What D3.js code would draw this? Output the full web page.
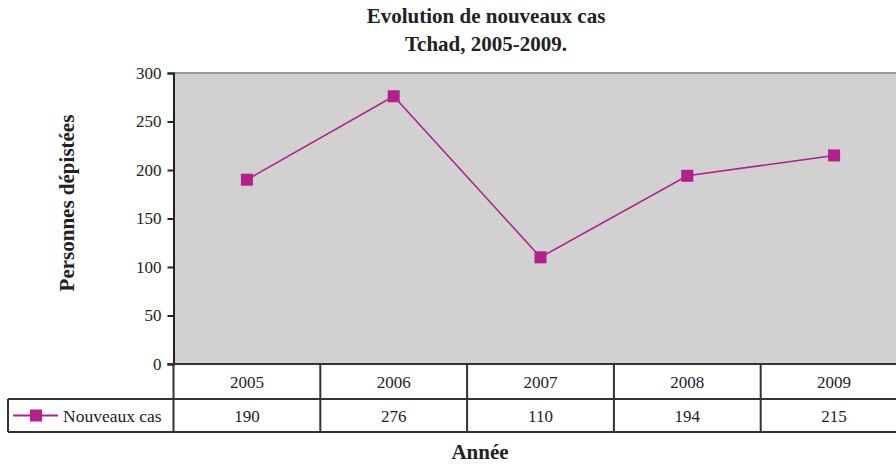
<!DOCTYPE html>
<html>
<head>
<meta charset="utf-8">
<script src="https://cdn.jsdelivr.net/npm/d3@7"></script>
<style>
  body { margin: 0; background: #fff; }
  svg text { font-family: "Liberation Serif", "Times New Roman", "DejaVu Serif", serif !important; fill: #222; }
</style>
</head>
<body>
<div id="chart"></div>
<script>
const years = ["2005", "2006", "2007", "2008", "2009"];
const nouveauxCas = [190, 276, 110, 194, 215];
const yTicks = [0, 50, 100, 150, 200, 250, 300];
const seriesName = "Nouveaux cas";

const width = 896;
const height = 464;
const plot = {"left": 173.5, "top": 73, "bottom": 364};
const band = 146.8;
const rowH = [35, 33];
const color = "#B3208B";

const svg = d3.select("#chart")
              .append("svg")
              .attr("width", width)
              .attr("height", height);

const x = d3.scaleBand()
            .domain(years)
            .range([plot.left, plot.left + band * years.length]);
const y = d3.scaleLinear().domain([0, 300]).range([plot.bottom, plot.top]);

// plot background
svg.append("rect")
   .attr("x", plot.left)
   .attr("y", plot.top)
   .attr("width", band * years.length)
   .attr("height", plot.bottom - plot.top)
   .attr("fill", "#D1D1D1");
svg.append("line")
   .attr("x1", plot.left).attr("x2", width)
   .attr("y1", plot.top).attr("y2", plot.top)
   .attr("stroke", "#999").attr("stroke-width", 2);

// y axis
const yAxis = svg.append("g")
                 .attr("transform", "translate(" + plot.left + ",0)")
                 .call(d3.axisLeft(y).tickValues(yTicks).tickSize(6).tickPadding(6));
yAxis.attr("font-family", null);
yAxis.select(".domain").attr("stroke", "#222").attr("stroke-width", 2);
yAxis.selectAll(".tick line").attr("stroke", "#222").attr("stroke-width", 2);
yAxis.selectAll(".tick text")
     .attr("font-size", "17px")
     .attr("fill", "#333");

// data table
const r1 = plot.bottom + rowH[0];
const r2 = r1 + rowH[1];
const grid = svg.append("g").attr("stroke", "#333").attr("stroke-width", 2);
grid.append("line").attr("x1", plot.left - 6).attr("x2", width).attr("y1", plot.bottom).attr("y2", plot.bottom);
grid.append("line").attr("x1", 8).attr("x2", width).attr("y1", r1).attr("y2", r1);
grid.append("line").attr("x1", 8).attr("x2", width).attr("y1", r2).attr("y2", r2);
grid.append("line").attr("x1", 8).attr("x2", 8).attr("y1", r1).attr("y2", r2);
grid.selectAll(".col")
    .data(years)
    .enter()
    .append("line")
    .attr("x1", (d) => x(d)).attr("x2", (d) => x(d))
    .attr("y1", plot.bottom).attr("y2", r2);

svg.selectAll(".year")
   .data(years)
   .enter()
   .append("text")
   .attr("x", (d) => x(d) + x.bandwidth() / 2)
   .attr("y", plot.bottom + 24)
   .attr("text-anchor", "middle")
   .attr("font-size", "17px")
   .text((d) => d);
svg.selectAll(".val")
   .data(nouveauxCas)
   .enter()
   .append("text")
   .attr("x", (d, i) => x(years[i]) + x.bandwidth() / 2)
   .attr("y", r1 + 23)
   .attr("text-anchor", "middle")
   .attr("font-size", "17px")
   .text((d) => d);

// legend key in table
const ly = r1 + rowH[1] / 2;
svg.append("line")
   .attr("x1", 13).attr("x2", 58).attr("y1", ly).attr("y2", ly)
   .attr("stroke", color).attr("stroke-width", 2);
svg.append("rect")
   .attr("x", 30).attr("y", ly - 6).attr("width", 12).attr("height", 12)
   .attr("fill", color);
svg.append("text")
   .attr("x", 63).attr("y", r1 + 23)
   .attr("font-size", "17.5px")
   .text(seriesName);

// line series
const line = d3.line()
               .x((d, i) => x(years[i]) + x.bandwidth() / 2)
               .y((d) => y(d));
svg.append("path")
   .datum(nouveauxCas)
   .attr("d", line)
   .attr("fill", "none")
   .attr("stroke", color)
   .attr("stroke-width", 1.6);
svg.selectAll(".mark")
   .data(nouveauxCas)
   .enter()
   .append("rect")
   .attr("x", (d, i) => x(years[i]) + x.bandwidth() / 2 - 6)
   .attr("y", (d) => y(d) - 6)
   .attr("width", 12)
   .attr("height", 12)
   .attr("fill", color);

// titles
const title = svg.append("text")
                 .attr("text-anchor", "middle")
                 .attr("font-size", "21px")
                 .attr("font-weight", "bold");
title.append("tspan").attr("x", 486).attr("y", 23).text("Evolution de nouveaux cas");
title.append("tspan").attr("x", 486).attr("y", 51).text("Tchad, 2005-2009.");

svg.append("text")
   .attr("transform", "translate(74,203) rotate(-90)")
   .attr("text-anchor", "middle")
   .attr("font-size", "21px")
   .attr("font-weight", "bold")
   .text("Personnes dépistées");

svg.append("text")
   .attr("x", 480).attr("y", 459)
   .attr("text-anchor", "middle")
   .attr("font-size", "21px")
   .attr("font-weight", "bold")
   .text("Année");
</script>
</body>
</html>
